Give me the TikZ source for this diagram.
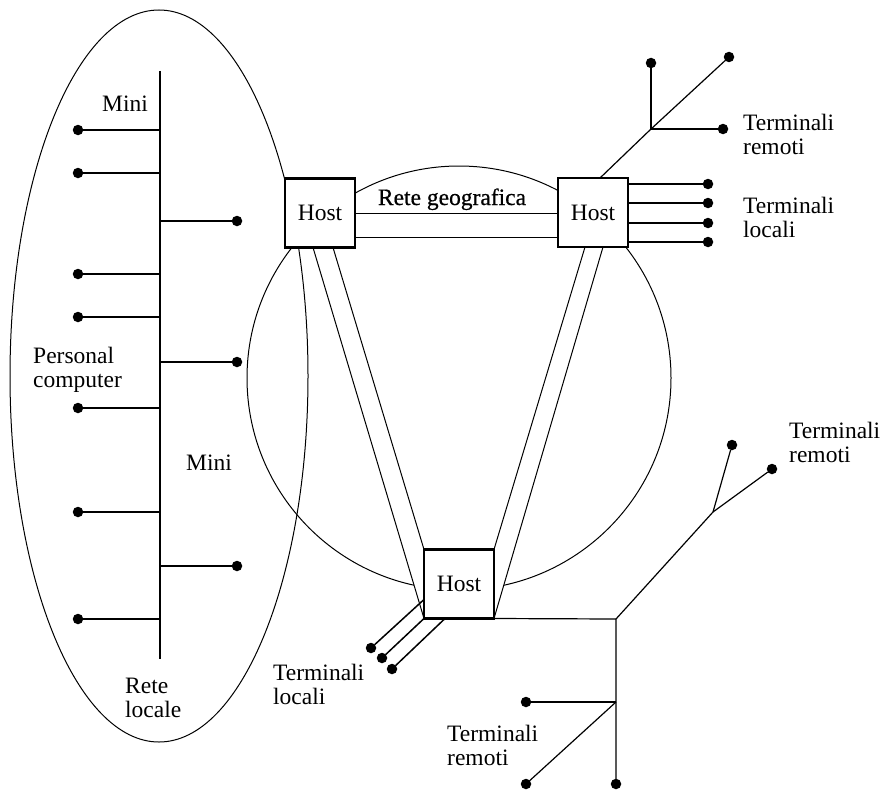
\documentclass[tikz,border=0pt]{standalone}
\usepackage{fontspec}
\setmainfont{Liberation Serif}
\newfontface\geofont[FakeBold=0.6]{Liberation Serif}
\usetikzlibrary{calc}
\pgfdeclarelayer{background}
\pgfsetlayers{background,main}
\begin{document}
\begin{tikzpicture}[x=1pt,y=-1pt,
  thinline/.style={line width=1pt},
  wire/.style={line width=1.5pt},
  branch/.style={line width=1.2pt},
  term/.style={circle,fill=black,inner sep=0pt,minimum size=10.5pt,outer sep=0pt},
  host/.style={draw,fill=white,line width=2.8pt,minimum width=70pt,minimum height=69pt,
    inner sep=0pt,outer sep=0pt,font=\fontsize{23.5}{24}\selectfont},
  lbl/.style={font=\fontsize{23.5}{23.5}\selectfont,inner sep=0pt,align=left}
]
\useasboundingbox (0,0) rectangle (885,789);

% hosts
\node[host] (h1) at (320,213) {Host};
\node[host] (h2) at (593,212.5) {Host};
\node[host] (h3) at (459,584) {Host};

% local area network: bus with attached stations
\coordinate (bt) at (160,71);
\coordinate (bb) at (160,659);
\draw[wire] (bt) -- (bb);
\foreach \n/\y in {1/130,2/173,3/274,4/317,5/408,6/512,7/619} {
  \node[term] (pl\n) at (78,\y) {};
  \draw[wire] (pl\n) -- (pl\n -| bt);
}
\foreach \n/\y in {1/221,2/362,3/566} {
  \node[term] (pr\n) at (237,\y) {};
  \draw[wire] (pr\n) -- (pr\n -| bt);
}

% local terminals of the upper right host
\foreach \n/\y in {1/184,2/203,3/223,4/242} {
  \node[term] (tl\n) at (708,\y) {};
  \draw[wire] (tl\n -| h2.east) -- (tl\n);
}

% local terminals of the lower host
\node[term] (tb1) at (371,648) {};
\node[term] (tb2) at (382,658) {};
\node[term] (tb3) at (392,669) {};
\draw[wire] ($(h3.south west)+(0,-19)$) -- (tb1);
\draw[wire] (h3.south west) -- (tb2);
\draw[wire] ($(h3.south west)+(21,0)$) -- (tb3);

% remote terminals, upper right
\coordinate (ra) at (651,129);
\node[term] (ru1) at (729,57) {};
\node[term] (ru2) at (651,63) {};
\node[term] (ru3) at (723,129) {};
\draw[branch] ($(h2.north west)+(42,0)$) -- (ra) -- (ru1);
\draw[branch] (ra) -- (ru2);
\draw[branch] (ra) -- (ru3);

% remote terminals, lower right
\coordinate (j1) at (616,619);
\coordinate (j2) at (616,702);
\coordinate (rb) at (713,512);
\node[term] (rr1) at (732,445) {};
\node[term] (rr2) at (772,469) {};
\node[term] (rd1) at (616,784) {};
\node[term] (rd2) at (526,702) {};
\node[term] (rd3) at (526,784) {};
\draw[branch] (h3.south east) -- (j1) -- (rd1);
\draw[branch] (j1) -- (rb) -- (rr1);
\draw[branch] (rb) -- (rr2);
\draw[branch] (j2) -- (rd2);
\draw[branch] (j2) -- (rd3);

\begin{pgfonlayer}{background}
  % outline of the local network
  \draw[thinline] (159,376) ellipse [x radius=149, y radius=366];
  % geographic network ring
  \draw[thinline] (459,378) circle [radius=212];
  % links between hosts
  \draw[thinline] (h1.east) -- (h1.east -| h2.west);
  \draw[thinline] ($(h1.east)+(0,24)$) -- ($(h1.east -| h2.west)+(0,24)$);
  \fill[white] ($(h1.south west)+(28,0)$) -- ($(h1.south west)+(48,0)$)
     -- (h3.north west) -- (h3.south west) -- cycle;
  \draw[thinline] ($(h1.south west)+(28,0)$) -- (h3.south west);
  \draw[thinline] ($(h1.south west)+(48,0)$) -- (h3.north west);
  \fill[white] ($(h2.south west)+(27,0)$) -- ($(h2.south west)+(45,0)$)
     -- (h3.south east) -- (h3.north east) -- cycle;
  \draw[thinline] ($(h2.south west)+(27,0)$) -- (h3.north east);
  \draw[thinline] ($(h2.south west)+(45,0)$) -- (h3.south east);
\end{pgfonlayer}

% labels (multi-line labels are placed by the baseline of their last line)
\node[lbl,anchor=base] (lmini1) at (125,112) {Mini};
\node[lbl,anchor=base west] (lpc) at (33,387) {Personal\\computer};
\node[lbl,anchor=base] (lmini2) at (209,470) {Mini};
\node[lbl,anchor=base west] (lrl) at (125,717) {Rete\\locale};
\node[lbl,anchor=base,font=\geofont\fontsize{23.5}{24}\selectfont] (lgeo) at (452,205) {Rete geografica};
\node[lbl,anchor=base west] (ltr1) at (743,154) {Terminali\\remoti};
\node[lbl,anchor=base west] (ltl1) at (743,237) {Terminali\\locali};
\node[lbl,anchor=base west] (ltr2) at (789,462) {Terminali\\remoti};
\node[lbl,anchor=base west] (ltl2) at (273,704) {Terminali\\locali};
\node[lbl,anchor=base west] (ltr3) at (447,765) {Terminali\\remoti};
\end{tikzpicture}
\end{document}
